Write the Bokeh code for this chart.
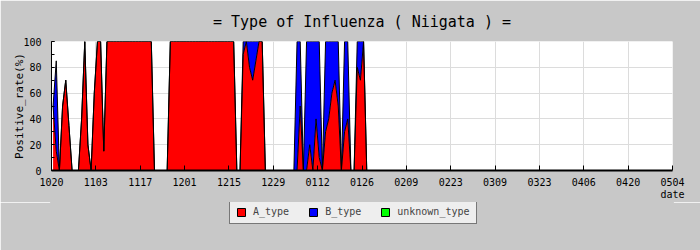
import numpy as np
from bokeh.plotting import figure
from bokeh.layouts import column
from bokeh.models import Range1d, FixedTicker, Legend, LegendItem, ColumnDataSource
from bokeh.embed import file_html
from bokeh.resources import INLINE

# ---- data (daily positive rate %, from 1020 onward) ----
tick_labels = ["1020", "1103", "1117", "1201", "1215", "1229", "0112", "0126",
               "0209", "0223", "0309", "0323", "0406", "0420", "0504"]
days_per_tick = 14

A_type = [50, 15, 0, 50, 70, 35, 0, 0, 0, 40,
          100, 20, 0, 60, 100, 100, 15, 100, 100, 100,
          100, 100, 100, 100, 100, 100, 100, 100, 100, 100,
          100, 100, 0, 0, 0, 0, 0, 100, 100, 100,
          100, 100, 100, 100, 100, 100, 100, 100, 100, 100,
          100, 100, 100, 100, 100, 100, 100, 100, 0, 0,
          90, 100, 80, 70, 85, 100, 100, 0, 0, 0,
          0, 0, 0, 0, 0, 0, 0, 0, 50, 0,
          0, 20, 0, 40, 10, 0, 30, 40, 60, 70,
          50, 0, 30, 40, 0, 0, 80, 70, 100, 0]
B_type = [0, 70, 0, 0, 0, 0, 0, 0, 0, 0,
          0, 0, 0, 0, 0, 0, 0, 0, 0, 0,
          0, 0, 0, 0, 0, 0, 0, 0, 0, 0,
          0, 0, 0, 0, 0, 0, 0, 0, 0, 0,
          0, 0, 0, 0, 0, 0, 0, 0, 0, 0,
          0, 0, 0, 0, 0, 0, 0, 0, 0, 0,
          10, 0, 20, 30, 15, 0, 0, 0, 0, 0,
          0, 0, 0, 0, 0, 0, 0, 100, 50, 0,
          100, 80, 100, 60, 90, 0, 70, 60, 40, 30,
          50, 0, 70, 60, 0, 0, 20, 30, 0, 0]
unknown_type = [0] * len(A_type)
series_names = ["A_type", "B_type", "unknown_type"]
series_colors = ["#FF0000", "#0000FF", "#00FF00"]

a = np.array(A_type, dtype=float)
b = np.array(B_type, dtype=float)
u = np.array(unknown_type, dtype=float)
x = np.arange(len(a)) + 0.5
src = ColumnDataSource(dict(x=x, y0=np.zeros_like(a), ya=a, yb=a + b, yu=a + b + u))

FONT = "DejaVu Sans Mono"
BG = "#C8C8C8"

ticks = [i * days_per_tick for i in range(len(tick_labels))]

p = figure(width=700, height=202, output_backend="svg", toolbar_location=None,
           x_range=Range1d(0, ticks[-1]), y_range=Range1d(0, 100),
           min_border_left=51, min_border_right=28, min_border_top=40, min_border_bottom=32)
p.border_fill_color = BG
p.background_fill_color = "white"
p.outline_line_color = None

p.title.text = "= Type of Influenza ( Niigata ) ="
p.title.align = "center"
p.title.offset = -12
p.title.text_font = FONT
p.title.text_font_size = "15px"
p.title.text_font_style = "normal"
p.title.text_color = "black"
p.title.standoff = 21

# stacked areas with black outlines
p.varea(x="x", y1="y0", y2="ya", source=src, fill_color=series_colors[0])
p.varea(x="x", y1="ya", y2="yb", source=src, fill_color=series_colors[1])
p.varea(x="x", y1="yb", y2="yu", source=src, fill_color=series_colors[2])
p.line(x="x", y="ya", source=src, line_color="black", line_width=1)
p.line(x="x", y="yb", source=src, line_color="black", line_width=1)

# axes
p.xaxis.ticker = FixedTicker(ticks=ticks)
p.xaxis.major_label_overrides = {t: lab for t, lab in zip(ticks, tick_labels)}
p.xaxis.major_tick_in = 5
p.xaxis.major_tick_out = 0
p.xaxis.minor_tick_line_color = None
p.xaxis.axis_line_width = 2
p.xaxis.major_label_standoff = 7
p.xaxis.major_label_text_font = FONT
p.xaxis.major_label_text_font_size = "10px"
p.xaxis.major_label_text_color = "black"
p.xaxis.axis_label = "date"
p.xaxis.axis_label_text_font = FONT
p.xaxis.axis_label_text_font_size = "10px"
p.xaxis.axis_label_text_font_style = "normal"
p.xaxis.axis_label_text_color = "black"
p.xaxis.axis_label_standoff = 0
xa = p.xaxis[0]
if "axis_label_align" in xa.properties():
    xa.axis_label_align = "end"

p.yaxis.ticker = FixedTicker(ticks=[0, 20, 40, 60, 80, 100], minor_ticks=list(range(0, 101, 10)))
p.yaxis.major_tick_in = 3
p.yaxis.major_tick_out = 0
p.yaxis.minor_tick_in = 3
p.yaxis.minor_tick_out = 0
p.yaxis.major_label_standoff = 10
p.yaxis.major_label_text_font = FONT
p.yaxis.major_label_text_font_size = "10px"
p.yaxis.major_label_text_color = "black"
p.yaxis.axis_label = "Positive_rate(%)"
p.yaxis.axis_label_text_font = FONT
p.yaxis.axis_label_text_font_size = "11px"
p.yaxis.axis_label_text_font_style = "normal"
p.yaxis.axis_label_text_color = "black"
p.yaxis.axis_label_standoff = -6

p.xgrid.grid_line_color = "#DCDCDC"
p.ygrid.grid_line_color = "#DCDCDC"
p.ygrid.ticker = FixedTicker(ticks=[0, 20, 40, 60, 80, 100])

# legend strip
q = figure(width=700, height=48, output_backend="svg", toolbar_location=None,
           x_range=Range1d(0, 1), y_range=Range1d(0, 1), x_axis_type=None, y_axis_type=None,
           min_border=0)
q.border_fill_color = BG
q.background_fill_color = BG
q.outline_line_color = BG
q.outline_line_width = 3
q.xgrid.visible = False
q.ygrid.visible = False
proxy = ColumnDataSource(dict(l=[np.nan], r=[np.nan], b=[np.nan], t=[np.nan]))
items = []
for name, col in zip(series_names, series_colors):
    r = q.quad(left="l", right="r", bottom="b", top="t", source=proxy,
               fill_color=col, line_color="black", line_width=1)
    items.append(LegendItem(label=name, renderers=[r]))

legend = Legend(items=items, orientation="horizontal", location=(178, 26))
legend.label_text_font = FONT
legend.label_text_font_size = "10px"
legend.glyph_width = 10
legend.glyph_height = 10
legend.label_height = 10
legend.label_standoff = 7
legend.spacing = 19
legend.padding = 6
legend.margin = 0
legend.background_fill_color = "#EEEEEE"
legend.background_fill_alpha = 1
legend.border_line_color = "black"
legend.border_line_width = 1
q.add_layout(legend)

layout = column(p, q, spacing=0)
open("out.html", "w").write(file_html(layout, INLINE))
